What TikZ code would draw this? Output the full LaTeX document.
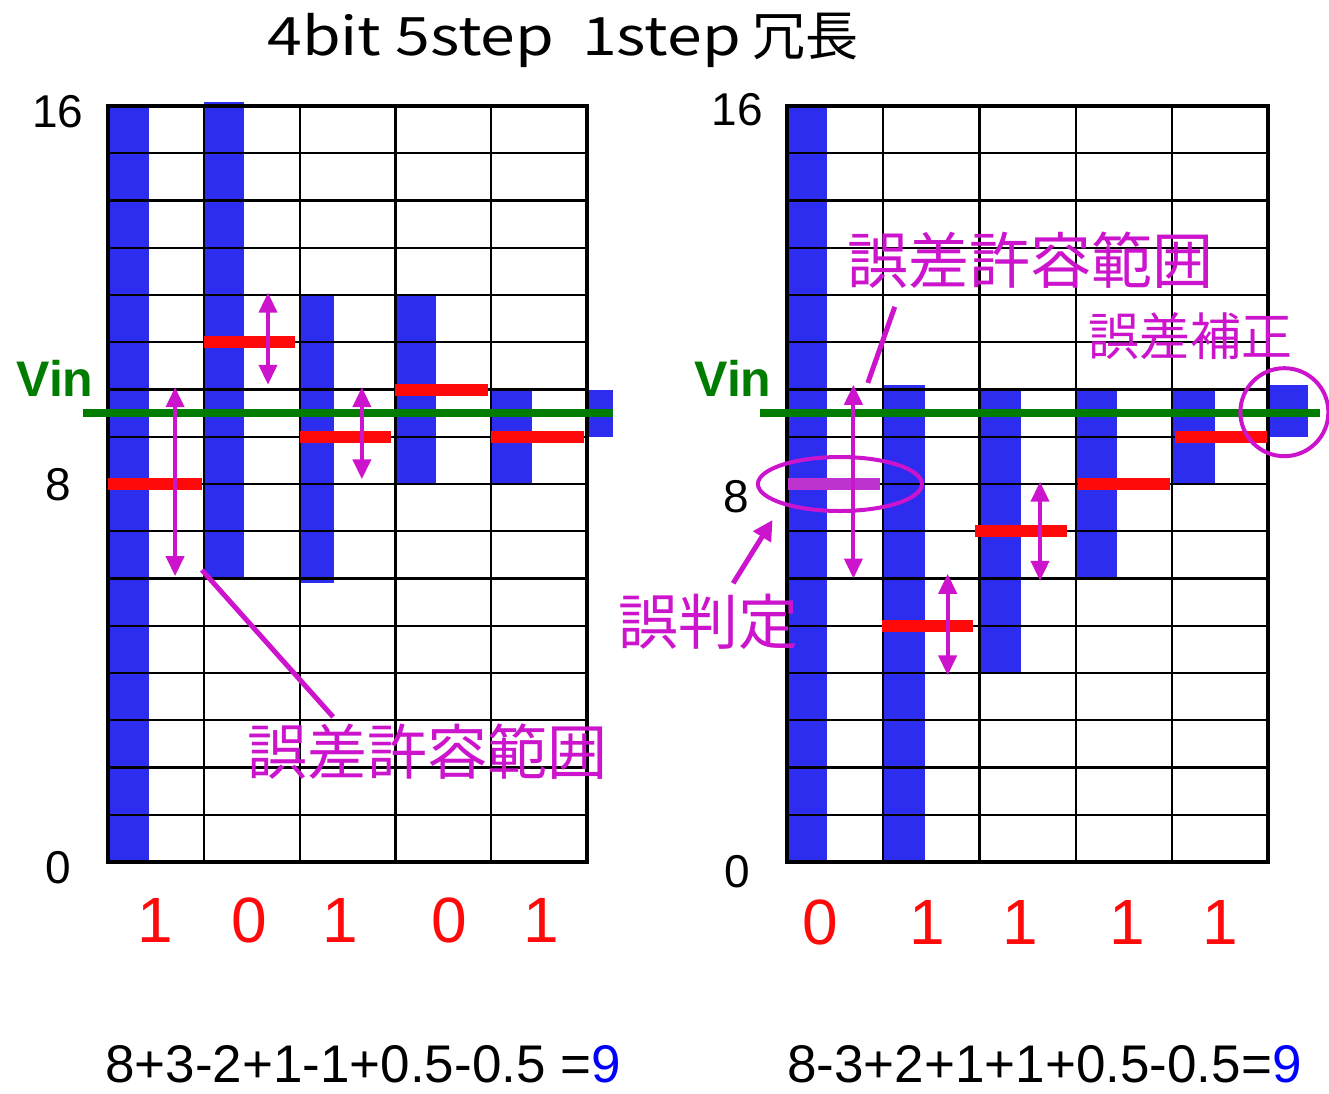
\documentclass[tikz,border=0pt]{standalone}
\usepackage{fontspec}
\setmainfont{Liberation Sans}
\newfontfamily\jpfont{Noto Sans CJK JP}
\usetikzlibrary{arrows.meta,shapes.geometric}
\definecolor{barblue}{RGB}{45,45,240}
\definecolor{mkred}{RGB}{255,10,10}
\definecolor{mag}{RGB}{205,20,205}
\definecolor{misjudge}{RGB}{190,50,205}
\definecolor{vgreen}{RGB}{0,125,0}
\tikzset{
  barfill/.style={fill=barblue},
  gridline/.style={line width=2.2pt, black},
  frameline/.style={line width=3.8pt, black},
  redbar/.style={mkred, line width=12pt},
  vinline/.style={vgreen, line width=8pt},
  tol/.style={mag, line width=4pt, {Triangle[length=20pt,width=18pt]}-{Triangle[length=20pt,width=18pt]}},
  ptr/.style={mag, line width=5pt},
  ptrarrow/.style={mag, line width=5pt, -{Triangle[length=20pt,width=20pt]}},
  ring/.style={mag, line width=4pt},
  axlab/.style={inner sep=0pt, font=\fontsize{46}{50}\selectfont},
  vinlab/.style={inner sep=0pt, text=vgreen, font=\bfseries\fontsize{50}{54}\selectfont},
  bitlab/.style={inner sep=0pt, text=mkred, font=\fontsize{64}{70}\selectfont},
  jplab/.style={inner sep=0pt, text=mag, font=\jpfont\fontsize{60}{64}\selectfont},
  sumlab/.style={inner sep=0pt, anchor=west, font=\fontsize{53}{58}\selectfont},
}
\begin{document}
\begin{tikzpicture}[x=1pt,y=-1pt]
\useasboundingbox (0,0) rectangle (1329,1093);
\fill[white] (0,0) rectangle (1329,1093);

% title
\node[inner sep=0pt, font=\jpfont\fontsize{53}{56}\selectfont] (title) at (563,40) {\scalebox{1.18}[1]{4bit 5step\ \ 1step} 冗長};

% ---------------- left chart ----------------
\node[axlab] (l16) at (58,112) {16};
\node[axlab] (l8) at (58,485) {8};
\node[axlab] (l0) at (58,868) {0};
\node[vinlab] (lvin) at (55,378) {Vin};

\begin{scope}[shift={(108,862)}, x=95.8pt, y=47.25pt]
  \fill[barfill] (0,0) rectangle (0.43,16);
  \fill[barfill] (1,6) rectangle (1.42,16.08);
  \fill[barfill] (2,5.9) rectangle (2.36,12);
  \fill[barfill] (3,8) rectangle (3.42,12);
  \fill[barfill] (4,8) rectangle (4.43,10);
  \fill[barfill] (5,9) rectangle (5.27,10);
  \foreach \i in {1,...,15} \draw[gridline] (0,\i) -- (5,\i);
  \foreach \i in {1,...,4} \draw[gridline] (\i,0) -- (\i,16);
  \draw[frameline] (0,0) rectangle (5,16);
  \draw[redbar] (0,8) -- (0.98,8);
  \draw[redbar] (1,11) -- (1.95,11);
  \draw[redbar] (2,9) -- (2.95,9);
  \draw[redbar] (3,10) -- (3.97,10);
  \draw[redbar] (4,9) -- (4.97,9);
  \coordinate (lvinA) at (-0.26,9.5);
  \coordinate (lvinB) at (5.27,9.5);
  \draw[vinline] (lvinA) -- (lvinB);
  \coordinate (la1t) at (0.70,10.05);
  \coordinate (la1b) at (0.70,6.05);
  \coordinate (la2t) at (1.67,12.05);
  \coordinate (la2b) at (1.67,10.1);
  \coordinate (la3t) at (2.65,10.05);
  \coordinate (la3b) at (2.65,8.1);
  \draw[tol] (la1t) -- (la1b);
  \draw[tol] (la2t) -- (la2b);
  \draw[tol] (la3t) -- (la3b);
  \node[jplab] (ltolLabel) at (3.33,2.33) {誤差許容範囲};
  \coordinate (lptrA) at (0.98,6.18);
  \coordinate (lptrB) at (2.35,3.07);
  \draw[ptr] (lptrA) -- (lptrB);
\end{scope}

\node[bitlab] (lb1) at (155,920) {1};
\node[bitlab] (lb2) at (249,920) {0};
\node[bitlab] (lb3) at (340,920) {1};
\node[bitlab] (lb4) at (449,920) {0};
\node[bitlab] (lb5) at (541,920) {1};

\node[sumlab] (lsum) at (105,1064) {8+3-2+1-1+0.5-0.5 =\textcolor{blue}{9}};

% ---------------- right chart ----------------
\node[axlab] (r16) at (737,110) {16};
\node[axlab] (r8) at (736,497) {8};
\node[axlab] (r0) at (737,872) {0};
\node[vinlab] (rvin) at (733,378) {Vin};

\begin{scope}[shift={(787,862)}, x=96.2pt, y=47.25pt]
  \fill[barfill] (0,0) rectangle (0.42,16);
  \fill[barfill] (1,0) rectangle (1.43,10.1);
  \fill[barfill] (2.02,4) rectangle (2.43,10);
  \fill[barfill] (3.01,6) rectangle (3.43,10);
  \fill[barfill] (4.01,8) rectangle (4.45,10);
  \fill[barfill] (5.02,9) rectangle (5.42,10.1);
  \foreach \i in {1,...,15} \draw[gridline] (0,\i) -- (5,\i);
  \foreach \i in {1,...,4} \draw[gridline] (\i,0) -- (\i,16);
  \draw[frameline] (0,0) rectangle (5,16);
  \draw[redbar, misjudge] (0.01,8) -- (0.97,8);
  \draw[redbar] (0.99,5) -- (1.93,5);
  \draw[redbar] (1.95,7) -- (2.91,7);
  \draw[redbar] (3.02,8) -- (3.98,8);
  \draw[redbar] (4.03,9) -- (4.99,9);
  \coordinate (rvinA) at (-0.28,9.5);
  \coordinate (rvinB) at (5.54,9.5);
  \draw[vinline] (rvinA) -- (rvinB);
  \coordinate (ra1t) at (0.69,10.1);
  \coordinate (ra1b) at (0.69,6.0);
  \coordinate (ra2t) at (1.67,6.1);
  \coordinate (ra2b) at (1.67,3.95);
  \coordinate (ra3t) at (2.63,8.05);
  \coordinate (ra3b) at (2.63,5.95);
  \draw[tol] (ra1t) -- (ra1b);
  \draw[tol] (ra2t) -- (ra2b);
  \draw[tol] (ra3t) -- (ra3b);
  \node[ring, draw, ellipse, minimum width=164pt, minimum height=54pt, inner sep=0pt] (missRing) at (0.55,8.0) {};
  \node[ring, draw, circle, minimum size=88pt, inner sep=0pt] (corrRing) at (5.17,9.52) {};
  \node[jplab, font=\jpfont\fontsize{61}{66}\selectfont] (rtolLabel) at (2.53,12.74) {誤差許容範囲};
  \node[jplab, font=\jpfont\fontsize{51}{56}\selectfont] (corrLabel) at (4.19,11.13) {誤差補正};
  \node[jplab] (missLabel) at (-0.82,5.08) {誤判定};
  \coordinate (rptrA) at (1.12,11.75);
  \coordinate (rptrB) at (0.84,10.14);
  \draw[ptr] (rptrA) -- (rptrB);
  \coordinate (mptrA) at (-0.56,5.9);
  \coordinate (mptrB) at (-0.15,7.24);
  \draw[ptrarrow] (mptrA) -- (mptrB);
\end{scope}

\node[bitlab] (rb1) at (820,922) {0};
\node[bitlab] (rb2) at (927,922) {1};
\node[bitlab] (rb3) at (1020,922) {1};
\node[bitlab] (rb4) at (1127,922) {1};
\node[bitlab] (rb5) at (1220,922) {1};

\node[sumlab] (rsum) at (787,1064) {8-3+2+1+1+0.5-0.5=\textcolor{blue}{9}};
\end{tikzpicture}
\end{document}
